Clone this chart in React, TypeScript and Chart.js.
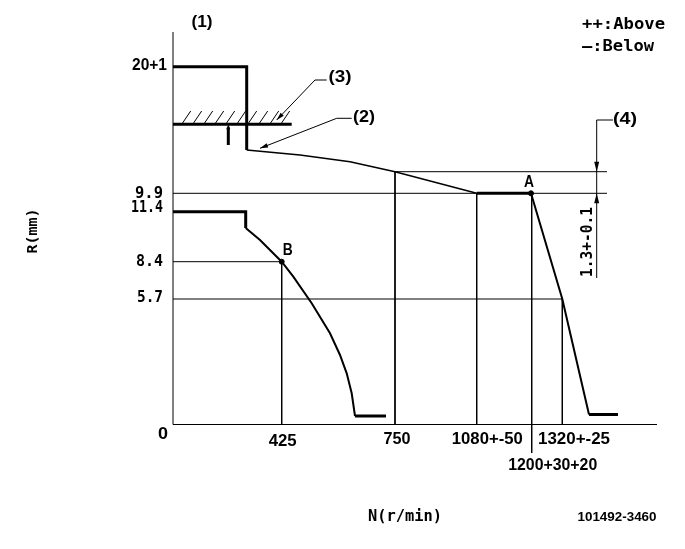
import React, { useEffect, useRef } from 'react';
import { Chart, registerables } from 'chart.js';

Chart.register(...registerables);

type P = [number, number];

// Schematic drawing units: x = station along the N (r/min) axis, y = height along the R (mm) axis
const rTickLabels = ['20+1', '9.9', '11.4', '8.4', '5.7', '0'];
const rTickLevels = [357.8, 231.2, 212.8, 162.8, 125.5, 0];
const nTickLabels = ['425', '750', '1080+-50', '1320+-25', '1200+30+20'];
const nTickStations = [108.7, 222, 303.7, 389.3, 358.7];

const axisR: P[] = [[0, 0], [0, 392.5]];
const axisN: P[] = [[0, 0], [484, 0]];

const fullLoadStep: P[] = [[0, 357.8], [73.7, 357.8], [73.7, 274.5]];
const stopperLine: P[] = [[0, 300.2], [118.7, 300.2]];
const governorCurve: P[] = [[73.7, 274.5], [127, 269.5], [177, 262.8], [222, 252.8], [303.7, 231.2]];
const plateauA: P[] = [[303.7, 231.2], [358, 231.2]];
const cutoffA: P[] = [[358, 231.2], [389.3, 125.5], [416, 10]];
const cutoffTail: P[] = [[416, 10], [445, 10]];

const idleStep: P[] = [[0, 212.8], [72.7, 212.8], [72.7, 196.5]];
const idleCurve: P[] = [[72.7, 196.5], [87, 184.5], [108.7, 162.8], [120.3, 147.8], [138.7, 121.2], [157, 91.2], [167, 69.5], [173.7, 51.2], [178.7, 31.2], [182, 8.5]];
const idleTail: P[] = [[182, 8.5], [213, 8.5]];

const ref99: P[] = [[0, 231.2], [434, 231.2]];
const ref4: P[] = [[222, 252.8], [434, 252.8]];
const ref84: P[] = [[0, 162.8], [108.7, 162.8], [108.7, 0]];
const ref57: P[] = [[0, 125.5], [389.3, 125.5], [389.3, 0]];
const drop750: P[] = [[222, 252.8], [222, 0]];
const drop1080: P[] = [[303.7, 231.2], [303.7, 0]];
const drop1200: P[] = [[358.7, 231.2], [358.7, -28.5]];

const dim4: P[] = [[423.7, 146.5], [423.7, 304.5], [440, 304.5]];
const leader2: P[] = [[87, 276.2], [163.7, 306.2], [178.7, 306.2]];
const leader3: P[] = [[103.7, 304.5], [142, 344.5], [153.7, 344.5]];
const markI: P[] = [[55.3, 297], [55.3, 279.5]];
const hatchFeet = [8.7, 19.7, 30.7, 41.7, 52.7, 63.7, 74.7, 85.7, 96.7, 107.7];
const hatchRise: P = [9, 13.3];

const pointA: P = [358, 231.2];
const pointB: P = [108.7, 162.8];

const MONO = "'DejaVu Sans Mono', monospace";
const SANS = "'Liberation Sans', Arial, sans-serif";

function line(pts: P[], w: number) {
  return {
    data: pts.map(([x, y]) => ({ x, y })),
    showLine: true,
    borderColor: '#000',
    backgroundColor: '#000',
    borderWidth: w,
    pointRadius: 0,
    pointHoverRadius: 0,
    tension: 0,
    clip: false,
    fill: false,
    borderCapStyle: 'butt',
    borderJoinStyle: 'miter',
  };
}

function drawText(ctx: CanvasRenderingContext2D, t: string, x: number, y: number, size: number, family: string, w: number, align: CanvasTextAlign = 'center', rot = 0) {
  ctx.save();
  ctx.translate(x, y);
  if (rot) ctx.rotate(rot);
  ctx.font = `bold ${size}px ${family}`;
  const m = ctx.measureText(t).width;
  const s = w ? w / m : 1;
  ctx.scale(s, 1);
  ctx.textAlign = align;
  ctx.textBaseline = 'middle';
  ctx.fillStyle = '#000';
  ctx.fillText(t, 0, 0);
  ctx.restore();
}

function arrow(ctx: CanvasRenderingContext2D, tip: { x: number; y: number }, from: { x: number; y: number }, len = 8, half = 2.2) {
  const dx = tip.x - from.x;
  const dy = tip.y - from.y;
  const d = Math.hypot(dx, dy) || 1;
  const ux = dx / d, uy = dy / d;
  const bx = tip.x - ux * len, by = tip.y - uy * len;
  ctx.save();
  ctx.fillStyle = '#000';
  ctx.beginPath();
  ctx.moveTo(tip.x, tip.y);
  ctx.lineTo(bx - uy * half, by + ux * half);
  ctx.lineTo(bx + uy * half, by - ux * half);
  ctx.closePath();
  ctx.fill();
  ctx.restore();
}

const drawingPlugin = {
  id: 'drawingText',
  afterDatasetsDraw(chart: any) {
    const ctx: CanvasRenderingContext2D = chart.ctx;
    const sx = chart.scales.x;
    const sy = chart.scales.y;
    const px = (p: P) => ({ x: sx.getPixelForValue(p[0]), y: sy.getPixelForValue(p[1]) });

    // arrowheads
    arrow(ctx, px(leader2[0]), px(leader2[1]));
    arrow(ctx, px(leader3[0]), px(leader3[1]));
    arrow(ctx, px([dim4[0][0], ref4[0][1]]), px([dim4[0][0], ref4[0][1] + 12]), 10, 2.5);
    arrow(ctx, px([dim4[0][0], ref99[0][1]]), px([dim4[0][0], ref99[0][1] - 12]), 10, 2.5);
    arrow(ctx, px([markI[0][0], stopperLine[0][1]]), px([markI[0][0], stopperLine[0][1] - 8]), 5, 2);

    // R tick labels
    const rDy = [-0.7, 0.7, -3.7, 0, -1.5, 10.5];
    const rW = [35, 28, 32, 27, 26, 10];
    rTickLabels.forEach((t, i) => {
      const y = sy.getPixelForValue(rTickLevels[i]) + rDy[i];
      const fam = t === '20+1' || t === '0' ? SANS : MONO;
      const rx = t === '20+1' ? 167 : t === '0' ? 168 : 163;
      drawText(ctx, t, rx, y, 16, fam, rW[i], 'right');
    });

    // N tick labels
    const nDx = [1, 2, 10.6, 11.7, 21];
    const nY = [441.5, 440, 440, 440, 466];
    const nW = [28, 27, 71, 72, 89];
    nTickLabels.forEach((t, i) => {
      const x = sx.getPixelForValue(nTickStations[i]) + nDx[i];
      drawText(ctx, t, x, nY[i], 16, SANS, nW[i], 'center');
    });

    const a = px(pointA);
    const b = px(pointB);
    drawText(ctx, 'A', a.x - 2, a.y - 11, 16, SANS, 10);
    drawText(ctx, 'B', b.x + 6, b.y - 11, 16, SANS, 10);

    drawText(ctx, '(1)', 202, 23, 16, SANS, 21);
    drawText(ctx, '(2)', 364, 118, 16, SANS, 22);
    drawText(ctx, '(3)', 340, 78, 16, SANS, 23);
    drawText(ctx, '(4)', 625, 120, 16, SANS, 24);

    drawText(ctx, '++:Above', 582, 25, 15, MONO, 83, 'left');
    drawText(ctx, '—:Below', 582, 47.5, 15, MONO, 72, 'left');

    drawText(ctx, 'R(mm)', 33, 231, 14, MONO, 45, 'center', -Math.PI / 2);
    drawText(ctx, '1.3+-0.1', 588, 242, 15, MONO, 70, 'center', -Math.PI / 2);

    drawText(ctx, 'N(r/min)', 405, 517, 15, MONO, 74);
    drawText(ctx, '101492-3460', 617, 517, 13, SANS, 79);
  },
};

export default function App() {
  const ref = useRef<HTMLCanvasElement | null>(null);
  useEffect(() => {
    if (!ref.current) return;
    const datasets: any[] = [
      line(axisR, 1),
      line(axisN, 1),
      line(ref99, 1),
      line(ref4, 1),
      line(ref84, 1),
      line(ref57, 1),
      line(drop750, 1),
      line(drop1080, 1),
      line(drop1200, 1),
      line(dim4, 1),
      line(leader2, 1),
      line(leader3, 1),
      line(fullLoadStep, 3),
      line(stopperLine, 3),
      line(governorCurve, 1.5),
      line(plateauA, 3),
      line(cutoffA, 2),
      line(cutoffTail, 3),
      line(idleStep, 3),
      line(idleCurve, 2),
      line(idleTail, 3),
      line(markI, 3),
      ...hatchFeet.map((f) => line([[f, stopperLine[0][1]], [f + hatchRise[0], stopperLine[0][1] + hatchRise[1]]], 1)),
      {
        data: [pointA, pointB].map(([x, y]) => ({ x, y })),
        showLine: false,
        pointRadius: 2.5,
        pointHoverRadius: 2.5,
        backgroundColor: '#000',
        borderColor: '#000',
        clip: false,
      },
    ];
    const chart = new Chart(ref.current, {
      type: 'scatter',
      data: { datasets },
      options: {
        animation: false,
        responsive: false,
        maintainAspectRatio: false,
        events: [],
        layout: { padding: { left: 173, top: 32, right: 28, bottom: 124.5 } },
        scales: {
          x: { type: 'linear', display: false, min: 0, max: 484 },
          y: { type: 'linear', display: false, min: 0, max: 392.5 },
        },
        plugins: { legend: { display: false }, tooltip: { enabled: false } },
      },
      plugins: [drawingPlugin],
    } as any);
    return () => chart.destroy();
  }, []);
  return (
    <div style={{ position: 'fixed', left: 0, top: 0, width: 685, height: 549, background: '#fff' }}>
      <canvas ref={ref} width={685} height={549} style={{ width: 685, height: 549, display: 'block' }} />
    </div>
  );
}
